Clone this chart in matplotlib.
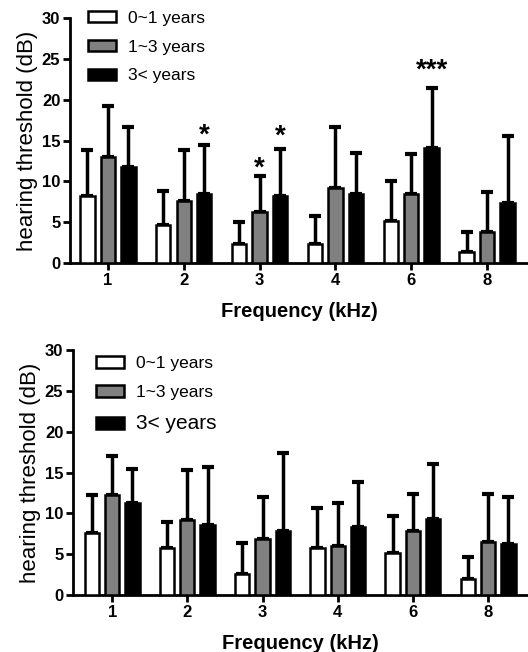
import numpy as np
import matplotlib
matplotlib.use('Agg')
import matplotlib.pyplot as plt

plt.rcParams['font.family'] = ['Liberation Sans', 'DejaVu Sans']

# ---------------------------------- data ----------------------------------#
freqs = ['1', '2', '3', '4', '6', '8']
groups = ['0~1 years', '1~3 years', '3< years']
colors = ['white', '#808080', 'black']

# top panel
top_mean = [
    [8.2, 4.7, 2.3, 2.3, 5.1, 1.4],
    [13.0, 7.6, 6.3, 9.2, 8.4, 3.8],
    [11.7, 8.5, 8.2, 8.5, 14.1, 7.3],
]
top_err_hi = [
    [13.85, 8.8, 5.05, 5.75, 10.05, 3.75],
    [19.2, 13.8, 10.7, 16.6, 13.3, 8.65],
    [16.7, 14.5, 13.9, 13.5, 21.4, 15.5],
]
# significance marks: (freq index, group index, label, centre height in dB)
top_stars = [(1, 2, '*', 16.2), (2, 1, '*', 12.2), (2, 2, '*', 16.1),
             (4, 2, '***', 24.2)]

# bottom panel
bot_mean = [
    [7.6, 5.7, 2.6, 5.7, 5.1, 2.0],
    [12.2, 9.2, 6.9, 6.0, 7.8, 6.5],
    [11.3, 8.6, 7.8, 8.3, 9.3, 6.3],
]
bot_err_hi = [
    [12.2, 9.0, 6.4, 10.6, 9.7, 4.6],
    [17.0, 15.3, 12.0, 11.3, 12.4, 12.35],
    [15.4, 15.7, 17.35, 13.8, 16.0, 11.95],
]

# ---------------------------------- plot ----------------------------------#
fig = plt.figure(figsize=(5.28, 6.52), dpi=100)
ax_top = fig.add_axes([0.1326, 0.5966, 0.8674, 0.3758])
ax_bot = fig.add_axes([0.1383, 0.0874, 0.8617, 0.3758])

x = np.arange(len(freqs))
offset = 0.27
width = 0.19


def draw_panel(ax, means, errs, xlim, leg_anchor, big_last=False):
    handles = []
    for g in range(3):
        xs = x + (g - 1) * offset
        m = np.array(means[g])
        e = np.array(errs[g]) - m
        b = ax.bar(xs, m, width, color=colors[g], edgecolor='black',
                   linewidth=1.8, zorder=3, label=groups[g])
        ax.errorbar(xs, m, yerr=[np.zeros_like(e), e], fmt='none',
                    ecolor='black', elinewidth=2.5, capsize=4, capthick=3,
                    zorder=2)
        handles.append(b)

    ax.set_xlim(*xlim)
    ax.set_ylim(0, 30)
    ax.set_yticks([0, 5, 10, 15, 20, 25, 30])
    ax.set_xticks(x)
    ax.set_xticklabels(freqs)
    for lab in ax.get_xticklabels() + ax.get_yticklabels():
        lab.set_fontweight('bold')
        lab.set_fontsize(12)
    ax.tick_params(axis='both', direction='out', length=5, width=2, pad=2)
    ax.spines['top'].set_visible(False)
    ax.spines['right'].set_visible(False)
    ax.spines['left'].set_linewidth(2)
    ax.spines['bottom'].set_linewidth(2)
    ax.set_ylabel('hearing threshold (dB)', fontsize=16, labelpad=3)
    ax.set_xlabel('Frequency (kHz)', fontsize=14.5, fontweight='bold', labelpad=10)

    leg = ax.legend(handles=handles, loc='upper left',
                    bbox_to_anchor=leg_anchor, frameon=False, fontsize=12.5,
                    handlelength=1.6, handleheight=0.65, labelspacing=0.8,
                    handletextpad=0.7, borderaxespad=0, borderpad=0)
    if big_last:
        leg.get_texts()[2].set_fontsize(15)
    return leg


draw_panel(ax_top, top_mean, top_err_hi, (-0.5, 5.54), (0.04, 1.03))
for fi, gi, s, yc in top_stars:
    # glyph centre sits a bit above the baseline at this size
    ax_top.text(x[fi] + (gi - 1) * offset, yc - 1.5, s,
                ha='center', va='baseline', fontsize=20, fontweight='bold')

draw_panel(ax_bot, bot_mean, bot_err_hi, (-0.52, 5.53), (0.05, 0.975),
           big_last=True)

fig.savefig('out.png', dpi=100)
plt.close('all')
